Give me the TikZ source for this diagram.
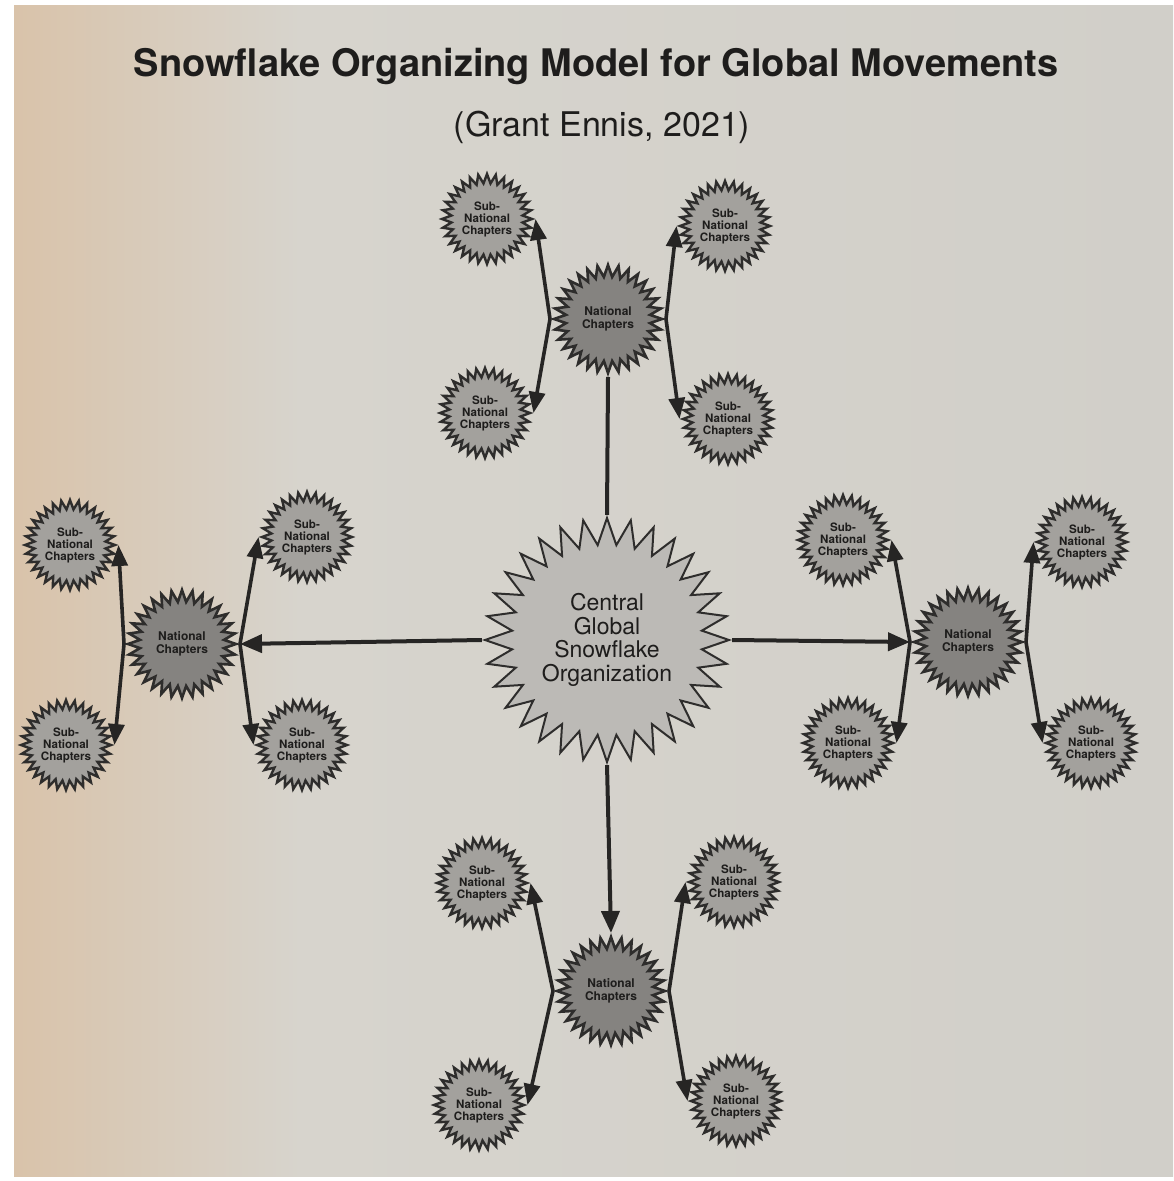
\documentclass[tikz,border=0pt]{standalone}
\usepackage{fontspec}
\setmainfont{TeX Gyre Heros}
\usetikzlibrary{shapes.geometric,arrows.meta,calc}
\pgfdeclarelayer{paper}
\pgfdeclarelayer{links}
\pgfsetlayers{paper,links,main}
\definecolor{paperL}{HTML}{D9C3AA}
\definecolor{paperM}{HTML}{D7D4CD}
\definecolor{paperR}{HTML}{D1CFC9}
\definecolor{hubc}{HTML}{BCBAB6}
\definecolor{natc}{HTML}{858380}
\definecolor{subc}{HTML}{A3A19D}
\definecolor{edgec}{HTML}{2E2D2C}
\definecolor{linec}{HTML}{262524}
\definecolor{textc}{HTML}{1E1D1C}
\begin{document}
\begin{tikzpicture}[x=0.5pt,y=-0.5pt,
  starbase/.style={star, star points=32, draw=edgec, inner sep=0pt, align=center, text=textc},
  hub/.style={starbase, star point ratio=1.28, minimum size=122pt, fill=hubc, line width=1pt,
    font=\fontsize{11.5}{11.7}\selectfont},
  nat/.style={starbase, star point ratio=1.28, minimum size=54pt, fill=natc, line width=1.3pt,
    font=\bfseries\fontsize{6}{6.5}\selectfont},
  subch/.style={starbase, star point ratio=1.26, minimum size=45pt, fill=subc, line width=1.2pt,
    font=\bfseries\fontsize{5.8}{6}\selectfont},
  link/.style={line width=2pt, draw=linec},
  tipped/.style={-{Triangle[length=11pt,width=9pt]}},
  sublink/.style={line width=1.8pt, draw=linec, -{Triangle[length=10.5pt,width=8pt]}}
]
\useasboundingbox (0,0) rectangle (1173,1181);
\begin{pgfonlayer}{paper}
  \fill[white] (0,0) rectangle (1173,1181);
  \shade[left color=paperM, right color=paperR] (300,6) rectangle (1173,1176);
  \shade[left color=paperL, right color=paperM] (14,6) rectangle (301,1176);
\end{pgfonlayer}

% titles
\node[anchor=base, font=\bfseries\fontsize{19}{23}\selectfont, text=textc] (title) at (596,77)
  {Snowflake Organizing Model for Global Movements};
\node[anchor=base, font=\fontsize{17}{20}\selectfont, text=textc] (subtitle) at (602,137)
  {(Grant Ennis, 2021)};

% centre
\node[hub] (hub) at (607,640) {Central\\Global\\Snowflake\\Organization};

% national chapters
\node[nat] (nt) at (608,319) {National\\Chapters};
\node[nat] (nl) at (182,644) {National\\Chapters};
\node[nat] (nr) at (968,642) {National\\Chapters};
\node[nat] (nb) at (611,991) {National\\Chapters};

% sub-national chapters
\foreach \n/\x/\y in {nt1/487/219, nt2/725/226, nt3/485/413, nt4/728/419,
                      nl1/70/545, nl2/307/537, nl3/66/745, nl4/302/745,
                      nr1/843/540, nr2/1082/542, nr3/848/743, nr4/1091/743,
                      nb1/482/883, nb2/734/882, nb3/479/1105, nb4/736/1101}
  \node[subch] (\n) at (\x,\y) {Sub-\\National\\Chapters};

\begin{pgfonlayer}{links}
  \draw[link] (hub.north) -- (nt.south);
  \draw[link, tipped] (hub.west) -- (nl.east);
  \draw[link, tipped] (hub.east) -- (nr.west);
  \draw[link, tipped] (hub.south) -- (nb.north);
  \foreach \g in {nt,nl,nr,nb}{
    \draw[sublink] (\g.west) -- (\g1.east);
    \draw[sublink] (\g.west) -- (\g3.east);
    \draw[sublink] (\g.east) -- (\g2.west);
    \draw[sublink] (\g.east) -- (\g4.west);
  }
\end{pgfonlayer}
\end{tikzpicture}
\end{document}
